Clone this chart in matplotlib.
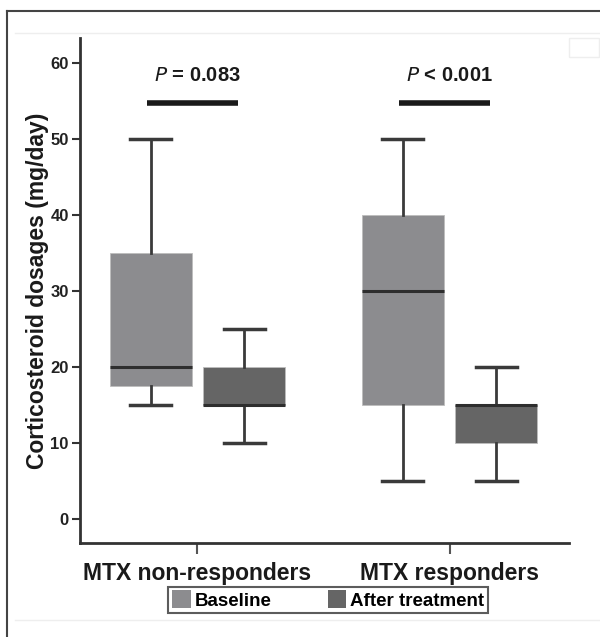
import matplotlib
matplotlib.use("Agg")
import matplotlib.pyplot as plt
from matplotlib.patches import Patch, Rectangle
from matplotlib.lines import Line2D

plt.rcParams['font.family'] = ['Liberation Sans', 'DejaVu Sans']

groups = ["MTX non-responders", "MTX responders"]
series = ["Baseline", "After treatment"]
# [whislo, q1, med, q3, whishi] per group
baseline = [[15, 17.5, 20, 35, 50], [5, 15, 30, 40, 50]]
after = [[10, 15, 15, 20, 25], [5, 10, 15, 15, 20]]
p_texts = ["= 0.083", "< 0.001"]
yticks = [0, 10, 20, 30, 40, 50, 60]
colors = ["#8c8c8f", "#656565"]

fig = plt.figure(figsize=(6.0, 6.37), dpi=100)
ax = fig.add_axes([0.1333, 0.1476, 0.815, 0.7927])

offset = 0.185
width = 0.325
for si, data in enumerate([baseline, after]):
    stats = []
    for gi, v in enumerate(data):
        stats.append(dict(whislo=v[0], q1=v[1], med=v[2], q3=v[3], whishi=v[4], fliers=[]))
    pos = [gi + 1 + (offset if si else -offset) for gi in range(len(groups))]
    ax.bxp(stats, positions=pos, widths=width, patch_artist=True, showfliers=False,
           boxprops=dict(facecolor=colors[si], edgecolor="#bdbdbd", linewidth=0.6),
           medianprops=dict(color="#2e2e2e", linewidth=2.2),
           whiskerprops=dict(color="#3a3a3a", linewidth=2),
           capprops=dict(color="#3a3a3a", linewidth=2.5),
           capwidths=width / 2, zorder=2)

# significance bars
for gi, t in enumerate(p_texts):
    x = gi + 1
    ax.plot([x - 0.2, x + 0.16], [54.7, 54.7], color="#1a1a1a", lw=4, solid_capstyle="butt")
    ax.text(x, 58.4, r"$\bf{\it{P}}$" + " " + t, ha="center", va="center",
            fontsize=14.5, fontweight="bold", color="#1a1a1a")

ax.set_xlim(0.534, 2.474)
ax.set_ylim(-3.2, 63.3)
ax.set_yticks(yticks)
ax.set_xticks([1, 2])
ax.set_xticklabels(groups, fontsize=16.5, fontweight="bold", color="#1a1a1a")
ax.tick_params(axis="y", labelsize=12, length=6, width=1.5, color="#333333", labelcolor="#222222", pad=2)
ax.tick_params(axis="x", length=8, width=1.5, color="#555555", pad=6)
for lab in ax.get_yticklabels():
    lab.set_fontweight("bold")
for s in ["top", "right"]:
    ax.spines[s].set_visible(False)
for s in ["left", "bottom"]:
    ax.spines[s].set_linewidth(2)
    ax.spines[s].set_color("#333333")
ax.set_ylabel("Corticosteroid dosages (mg/day)", fontsize=16.5, fontweight="bold",
              color="#1a1a1a", labelpad=1)

handles = [Patch(facecolor=c, edgecolor="none") for c in colors]
leg = fig.legend(handles, series, loc="center", bbox_to_anchor=(328 / 600, 1 - 600 / 637),
                 ncol=2, frameon=True, fancybox=False,
                 handlelength=1.0, handleheight=1.1, handletextpad=0.2, columnspacing=3.0,
                 borderpad=0.2, edgecolor="#333333",
                 prop=dict(weight="bold", size=13.5))
leg.get_frame().set_linewidth(1.5)

# outer frame and faint guide lines
fig.add_artist(Line2D([7 / 600, 7 / 600], [0, 1 - 11 / 637], transform=fig.transFigure,
                      color="#444444", lw=1.5))
fig.add_artist(Line2D([7 / 600, 1], [1 - 11 / 637, 1 - 11 / 637], transform=fig.transFigure,
                      color="#444444", lw=1.5))
fig.add_artist(Line2D([15 / 600, 1], [1 - 33 / 637, 1 - 33 / 637], transform=fig.transFigure,
                      color="#eeeeee", lw=1))
fig.add_artist(Line2D([15 / 600, 1], [1 - 620 / 637, 1 - 620 / 637], transform=fig.transFigure,
                      color="#eeeeee", lw=1))
fig.add_artist(Rectangle((569 / 600, 1 - 57 / 637), 30 / 600, 19 / 637, transform=fig.transFigure,
                         facecolor="none", edgecolor="#eeeeee", lw=1))

fig.savefig("out.png", dpi=100)
